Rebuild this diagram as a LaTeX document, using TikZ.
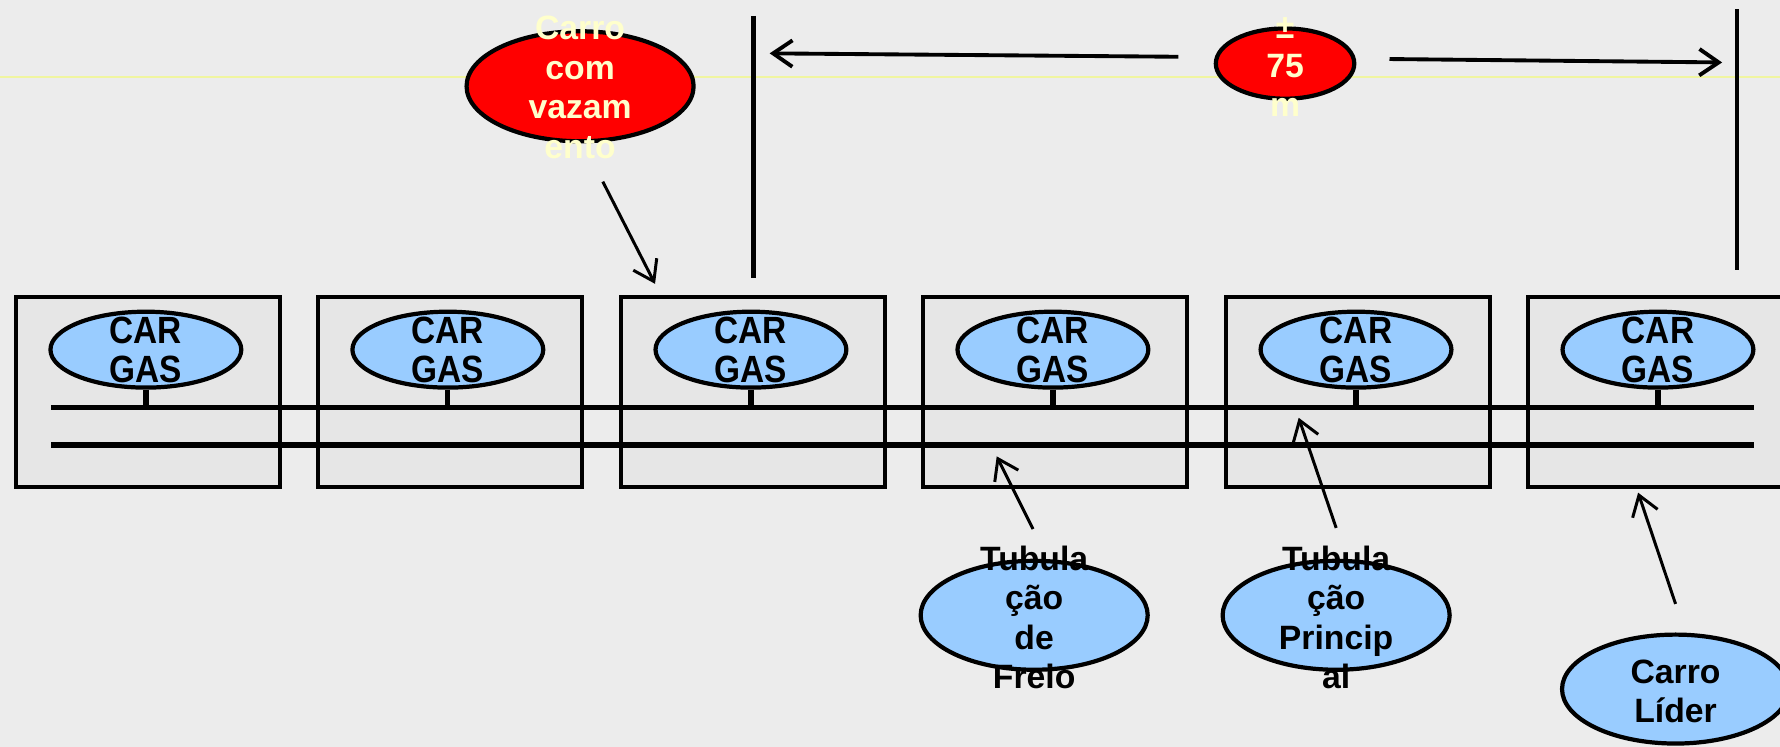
\documentclass[tikz,border=0pt]{standalone}
\usepackage{fontspec}
\setmainfont{Liberation Sans}
\newfontfamily\carfont[FakeStretch=0.88]{Liberation Sans}
\usetikzlibrary{shapes.geometric,arrows.meta}
\definecolor{bg}{HTML}{ECECEC}
\definecolor{boxfill}{HTML}{E6E6E6}
\definecolor{lblue}{HTML}{99CCFF}
\definecolor{pale}{HTML}{FFFFCC}
\definecolor{yline}{HTML}{F0F5A0}
\begin{document}
\begin{tikzpicture}[x=0.011352cm, y=-0.011352cm,
  carbox/.style={draw, line width=1.15pt, fill=boxfill, minimum width=75.3pt, minimum height=53.9pt, inner sep=0, anchor=north west},
  gasell/.style={ellipse, draw, line width=1.2pt, fill=lblue, minimum width=54.3pt, minimum height=21.6pt, inner sep=0},
  bigell/.style={ellipse, draw, line width=1.2pt, minimum width=64.6pt, minimum height=31pt, inner sep=0},
  cartext/.style={font=\carfont\bfseries\fontsize{10.8pt}{11pt}\selectfont, align=center, inner sep=0},
  lbltext/.style={font=\bfseries\fontsize{9.6pt}{11.2pt}\selectfont, align=center, inner sep=0},
  bus/.style={line width=1.5pt},
  vline/.style={line width=1.35pt},
  ptr/.style={line width=0.85pt, -{Straight Barb[length=5.5pt,width=7.5pt]}},
  dimptr/.style={line width=1.1pt, -{Straight Barb[length=5.5pt,width=7.5pt]}}
]
\clip (0,0) rectangle (1568,658);
\useasboundingbox (0,0) rectangle (1568,658);
\fill[bg] (0,0) rectangle (1568,658);
% faint yellow line
\coordinate (yl1) at (0,68);
\coordinate (yl2) at (1568,68);
\draw[yline, line width=0.5pt] (yl1) -- (yl2);

% car boxes and gas ellipses
\foreach \i/\x in {1/12,2/278,3/545,4/811,5/1078,6/1344} {
  \node[carbox] (box\i) at (\x,260) {};
}
\coordinate (busAw) at (45,359);
\coordinate (busAe) at (1545,359);
\coordinate (busBw) at (45,392);
\coordinate (busBe) at (1545,392);
\draw[bus] (busAw) -- (busAe);
\draw[bus] (busBw) -- (busBe);
\foreach \i/\x in {1/12,2/278,3/545,4/811,5/1078,6/1344} {
  \node[gasell] (gas\i) at (\x+116.5,308) {};
  \draw[bus] (gas\i.south) -- (gas\i.south |- busAw);
  \node[cartext] (gt\i) at (gas\i) {CAR\\GAS};
}

% dimension lines
\coordinate (vA1) at (664,14);
\coordinate (vA2) at (664,245);
\coordinate (vB1) at (1530,8);
\coordinate (vB2) at (1530,238);
\draw[vline] (vA1) -- (vA2);
\draw[vline] (vB1) -- (vB2);

\node[bigell, fill=red, minimum width=39.4pt, minimum height=20pt] (dist) at (1132,56) {};
\node[lbltext, text=pale] (distt) at (1132,59) {±\\75\\m};
\coordinate (dl1) at (1038,50);
\coordinate (dl2) at (678,47);
\coordinate (dr1) at (1224,52);
\coordinate (dr2) at (1517,55);
\draw[dimptr] (dl1) -- (dl2);
\draw[dimptr] (dr1) -- (dr2);

% leaking car
\node[bigell, fill=red, minimum height=31.3pt] (leak) at (511,76) {};
\node[lbltext, text=pale] (leakt) at (511,77) {Carro\\com\\vazam\\ento};
\coordinate (la1) at (531,160);
\coordinate (la2) at (577,250);
\draw[ptr] (la1) -- (la2);

% pipes
\node[bigell, fill=lblue] (freio) at (911,542) {};
\node[lbltext] (freiot) at (911,544) {Tubula\\ção\\de\\Freio};
\coordinate (fa1) at (910,466);
\coordinate (fa2) at (878,402);
\draw[ptr] (fa1) -- (fa2);

\node[bigell, fill=lblue] (princ) at (1177,542) {};
\node[lbltext] (princt) at (1177,544) {Tubula\\ção\\Princip\\al};
\coordinate (pa1) at (1177,465);
\coordinate (pa2) at (1144,368);
\draw[ptr] (pa1) -- (pa2);

\node[bigell, fill=lblue] (lider) at (1476,607) {};
\node[lbltext] (lidert) at (1476,609) {Carro\\Líder};
\coordinate (ca1) at (1476,532);
\coordinate (ca2) at (1443,434);
\draw[ptr] (ca1) -- (ca2);
\end{tikzpicture}
\end{document}
